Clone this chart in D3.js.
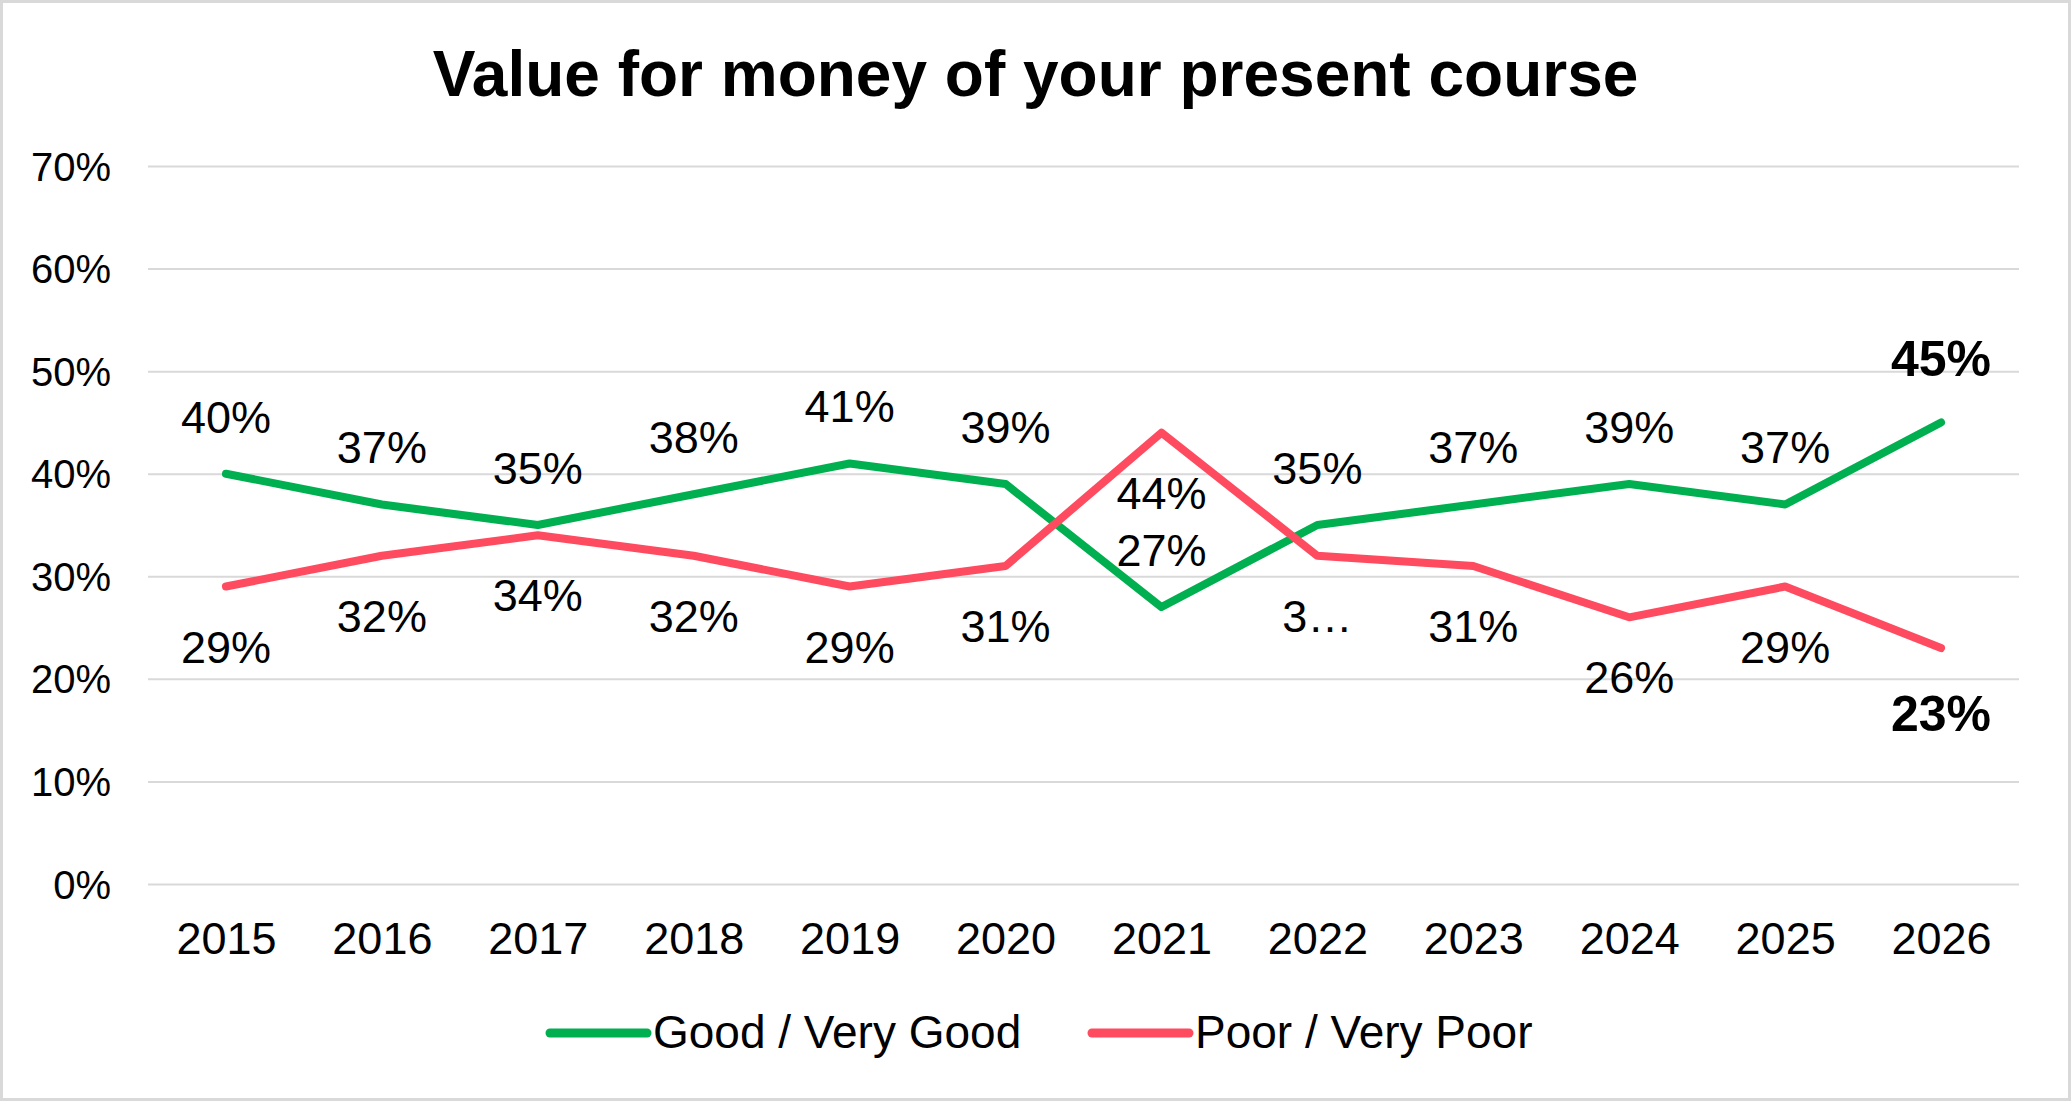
<!DOCTYPE html>
<html>
<head>
<meta charset="utf-8">
<script src="https://cdn.jsdelivr.net/npm/d3@7"></script>
<style>
    body { margin: 0; background: #fff; }
    svg text { font-family: "Liberation Sans", Arial, sans-serif; fill: #000; }
</style>
</head>
<body>
<div id="chart"></div>
<script>
// chart data
const years = ["2015", "2016", "2017", "2018", "2019", "2020", "2021", "2022", "2023", "2024", "2025", "2026"];
const goodValues = [40, 37, 35, 38, 41, 39, 27, 35, 37, 39, 37, 45];
const poorValues = [29, 32, 34, 32, 29, 31, 44, 32, 31, 26, 29, 23];
const seriesNames = ["Good / Very Good", "Poor / Very Poor"];
const yTicks = [0, 10, 20, 30, 40, 50, 60, 70];
// labels Excel cut short in the original ("3…")
const truncatedPoorYears = ["2022"];

class valueLineChart {

    constructor(parentElement) {
        this.parentElement = parentElement;
        this.initVis();
    }

    /*
     * svg area, scales, frame, title
     */
    initVis() {
        let vis = this;

        vis.fullWidth = 2071;
        vis.fullHeight = 1101;

        // plot area (gridline extent)
        vis.margin = { top: 166, right: 52, bottom: 217, left: 148 };
        vis.width = vis.fullWidth - vis.margin.left - vis.margin.right;
        vis.height = vis.fullHeight - vis.margin.top - vis.margin.bottom;

        vis.root = d3.select("#" + vis.parentElement).append("svg")
            .attr("width", vis.fullWidth)
            .attr("height", vis.fullHeight);

        // outer border
        vis.root.append("rect")
            .attr("x", 1.5)
            .attr("y", 1.5)
            .attr("width", vis.fullWidth - 3)
            .attr("height", vis.fullHeight - 3)
            .attr("fill", "#fff")
            .attr("stroke", "#d9d9d9")
            .attr("stroke-width", 3);

        vis.root.append("text")
            .attr("x", vis.fullWidth / 2)
            .attr("y", 96)
            .attr("text-anchor", "middle")
            .style("font-size", "64px")
            .style("font-weight", "bold")
            .text("Value for money of your present course");

        vis.svg = vis.root.append("g")
            .attr("transform", "translate(" + vis.margin.left + "," + vis.margin.top + ")");

        vis.x = d3.scalePoint()
            .domain(years)
            .range([0, vis.width])
            .padding(0.5);

        vis.y = d3.scaleLinear()
            .domain([0, 70])
            .range([vis.height, 0]);

        vis.color = d3.scaleOrdinal()
            .domain(seriesNames)
            .range(["#00b050", "#ff4b5f"]);

        vis.wrangleData();
    }

    wrangleData() {
        let vis = this;

        vis.series = [
            { name: seriesNames[0], values: goodValues, above: true },
            { name: seriesNames[1], values: poorValues, above: false }
        ];
        vis.series.forEach(s => {
            s.points = years.map((yr, i) => ({ year: yr, value: s.values[i], last: i === years.length - 1 }));
        });

        vis.updateVis();
    }

    updateVis() {
        let vis = this;

        // gridlines (y axis with long ticks)
        let yAxis = d3.axisLeft(vis.y)
            .tickValues(yTicks)
            .tickSize(-vis.width)
            .tickPadding(37)
            .tickFormat(d => d + "%");

        vis.svg.append("g")
            .attr("class", "y-axis axis")
            .call(yAxis)
            .call(g => g.select(".domain").remove())
            .call(g => g.selectAll("line").attr("stroke", "#d9d9d9").attr("stroke-width", 2))
            .call(g => g.selectAll("text")
                .style("font-size", "40px")
                .attr("dy", "0.35em"));

        // x axis labels only
        let xAxis = d3.axisBottom(vis.x).tickSize(0).tickPadding(0);

        vis.svg.append("g")
            .attr("class", "x-axis axis")
            .attr("transform", "translate(0," + vis.height + ")")
            .call(xAxis)
            .call(g => g.select(".domain").remove())
            .call(g => g.selectAll("text")
                .style("font-size", "45px")
                .attr("dy", null)
                .attr("y", 70));

        let line = d3.line()
            .x(d => vis.x(d.year))
            .y(d => vis.y(d.value));

        vis.svg.selectAll(".series-line")
            .data(vis.series)
            .join("path")
            .attr("class", "series-line")
            .attr("fill", "none")
            .attr("stroke", d => vis.color(d.name))
            .attr("stroke-width", 8)
            .attr("stroke-linejoin", "round")
            .attr("stroke-linecap", "round")
            .attr("d", d => line(d.points));

        // data labels: green above, red below, last year in bold
        vis.series.forEach(s => {
            vis.svg.selectAll(".label-" + (s.above ? "good" : "poor"))
                .data(s.points)
                .join("text")
                .attr("class", "label-" + (s.above ? "good" : "poor"))
                .attr("x", d => vis.x(d.year))
                .attr("y", d => {
                    if (d.last) return vis.y(d.value) + (s.above ? -46 : 83);
                    return vis.y(d.value) + (s.above ? -41 : 76);
                })
                .attr("text-anchor", "middle")
                .style("font-size", d => d.last ? "50px" : "45px")
                .style("font-weight", d => d.last ? "bold" : "normal")
                .text(d => {
                    if (!s.above && truncatedPoorYears.includes(d.year)) return String(d.value).charAt(0) + "\u2026";
                    return d.value + "%";
                });
        });

        // legend
        let legendX = [550, 1092];
        let legend = vis.root.selectAll(".legend-item")
            .data(seriesNames)
            .join("g")
            .attr("class", "legend-item")
            .attr("transform", (d, i) => "translate(" + legendX[i] + ",1033)");

        legend.append("line")
            .attr("x1", 0)
            .attr("x2", 97)
            .attr("stroke", d => vis.color(d))
            .attr("stroke-width", 9)
            .attr("stroke-linecap", "round");

        legend.append("text")
            .attr("x", 103)
            .attr("y", 15)
            .style("font-size", "46px")
            .text(d => d);
    }
}

new valueLineChart("chart");
</script>
</body>
</html>
